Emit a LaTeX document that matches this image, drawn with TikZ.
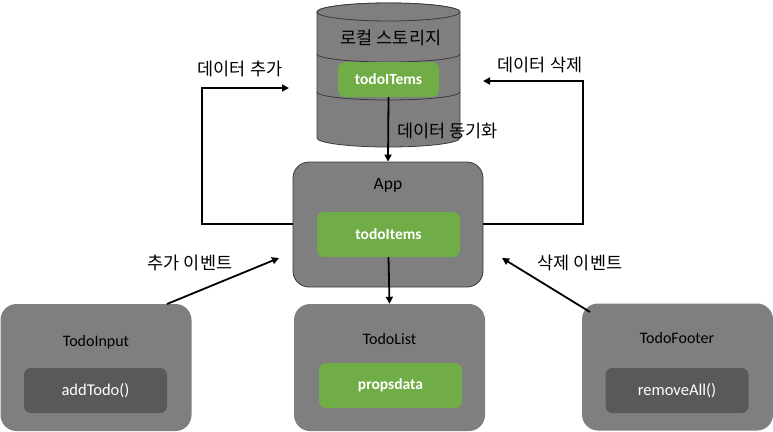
\documentclass[tikz,border=0pt]{standalone}
\usepackage{fontspec}
\setmainfont{Carlito}
\newfontfamily\kr{Noto Sans CJK KR}
\usetikzlibrary{arrows.meta}
\definecolor{boxgray}{HTML}{7F7F7F}
\definecolor{boxgreen}{HTML}{70AD47}
\definecolor{boxdark}{HTML}{595959}
\definecolor{edge}{HTML}{3A3A3A}
\begin{document}
\begin{tikzpicture}[x=1pt,y=-1pt,
  outer/.style={fill=boxgray,rounded corners=16pt,inner sep=0pt},
  greenbox/.style={fill=boxgreen,rounded corners=7pt,inner sep=0pt,minimum width=143pt,minimum height=45pt,text=white,font=\fontsize{15.5}{18}\selectfont\bfseries},
  darkbox/.style={fill=boxdark,rounded corners=7pt,inner sep=0pt,minimum width=143pt,minimum height=45pt,text=white,font=\fontsize{16.5}{19}\selectfont},
  title/.style={inner sep=0pt,font=\fontsize{16}{19}\selectfont},
  krlabel/.style={inner sep=0pt,font=\kr\fontsize{17.5}{20}\selectfont},
  conn/.style={line width=1.8pt,-{Triangle[length=7pt,width=7pt]}}]
\useasboundingbox (0,0) rectangle (773,431);
% cylinder
\draw[edge,line width=0.8pt,fill=boxgray] (317,12) -- (317,138)
  arc[start angle=180,end angle=360,x radius=71.5pt,y radius=9pt] -- (460,12)
  arc[start angle=0,end angle=180,x radius=71.5pt,y radius=9pt] -- cycle;
\draw[edge,line width=0.8pt,fill=boxgray] (388.5,12) ellipse[x radius=71.5pt,y radius=9pt];
\draw[edge,line width=0.8pt] (317,54) arc[start angle=180,end angle=360,x radius=71.5pt,y radius=8pt];
\draw[edge,line width=0.8pt] (317,92) arc[start angle=180,end angle=360,x radius=71.5pt,y radius=8pt];
\node[krlabel] (lstitle) at (391,38) {로컬 스토리지};
\node[greenbox,minimum width=101pt,minimum height=35pt] (lsitems) at (388.5,79.5) {todoITems};
% App
\node[outer,draw=edge,line width=0.8pt,minimum width=190pt,minimum height=125pt] (app) at (388,224.5) {};
\node[title,font=\fontsize{17.5}{20}\selectfont] (apptitle) at (388,185) {App};
\node[greenbox] (appitems) at (388.5,234.5) {todoItems};
% TodoList
\node[outer,minimum width=191pt,minimum height=127pt] (list) at (389.5,367.5) {};
\node[title] (listtitle) at (389.5,339) {TodoList};
\node[greenbox] (listdata) at (390.5,385.5) {propsdata};
% TodoInput
\node[outer,minimum width=191pt,minimum height=127pt] (input) at (96,367.5) {};
\node[title] (inputtitle) at (96,342) {TodoInput};
\node[darkbox] (inputfn) at (95.5,390.5) {addTodo()};
% TodoFooter
\node[outer,minimum width=191pt,minimum height=127pt] (footer) at (677.5,367) {};
\node[title] (footertitle) at (677,338) {TodoFooter};
\node[darkbox] (footerfn) at (677,390.5) {removeAll()};
% connectors
\coordinate (addend) at (289,88);
\coordinate (delend) at (483,81);
\coordinate (ainput) at (279,258);
\coordinate (afooter) at (502,258);
\draw[conn] (lsitems.south) -- (app.north);
\draw[conn] (appitems.south) -- (list.north);
\draw[conn] (app.west |- 0,224) -- (202,224) -- (202,88) -- (addend);
\draw[conn] (app.east |- 0,224) -- (583,224) -- (583,81) -- (delend);
\draw[conn] (167,304) -- (ainput);
\draw[conn] (590,312) -- (afooter);
% labels
\node[krlabel] (lbladd) at (240,69) {데이터 추가};
\node[krlabel] (lbldel) at (540,65) {데이터 삭제};
\node[krlabel,anchor=west] (lblsync) at (397,131) {데이터 동기화};
\node[krlabel] (lbladdev) at (190,263) {추가 이벤트};
\node[krlabel] (lbldelev) at (580,263) {삭제 이벤트};
\end{tikzpicture}
\end{document}
